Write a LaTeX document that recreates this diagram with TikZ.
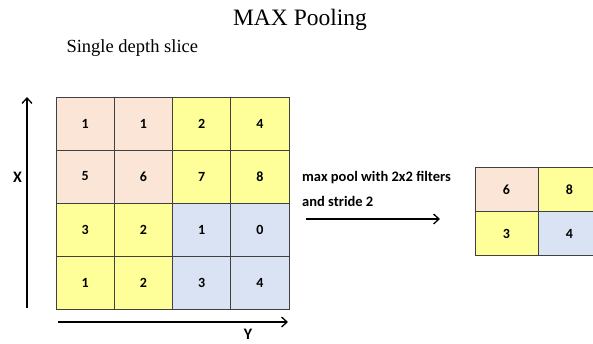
\documentclass[tikz,border=0pt]{standalone}
\usepackage{fontspec}
\setmainfont{Liberation Serif}
\newfontfamily\carlito{Carlito}
\usetikzlibrary{arrows.meta}
\definecolor{peach}{HTML}{FBE5D6}
\definecolor{lemon}{HTML}{FFFF99}
\definecolor{steel}{HTML}{DAE3F3}
\tikzset{
  cell/.style={draw=black!75,line width=0.9pt,minimum width=58.25pt,minimum height=53pt,inner sep=0pt,font=\carlito\bfseries\fontsize{14}{16}\selectfont},
  pcell/.style={cell,minimum width=63pt,minimum height=44pt},
  axis/.style={line width=1.3pt,-{Straight Barb[length=5.5pt,width=10pt,line width=1.3pt]}},
  lbl/.style={font=\carlito\bfseries\fontsize{14.5}{16}\selectfont,inner sep=0pt,anchor=west},
  axlbl/.style={font=\carlito\bfseries\fontsize{16}{18}\selectfont,inner sep=0pt}
}
\begin{document}
\begin{tikzpicture} [x=1pt,y=-1pt]
	\useasboundingbox (0,0) rectangle (593,343);
	\clip (0,0) rectangle (593,343);
		% titles
		\node (title) at (300,20) {\fontsize{23.5}{26}\selectfont MAX Pooling};
		\node [anchor=west] (slice) at (63,48) {\fontsize{18.5}{20}\selectfont Single depth slice};
		% input slice
		\node [cell,fill=peach] (a11) at (85.1,123.5) {1};
		\node [cell,fill=peach] (a12) at (143.4,123.5) {1};
		\node [cell,fill=lemon] (a13) at (201.6,123.5) {2};
		\node [cell,fill=lemon] (a14) at (259.9,123.5) {4};
		\node [cell,fill=peach] (a21) at (85.1,176.5) {5};
		\node [cell,fill=peach] (a22) at (143.4,176.5) {6};
		\node [cell,fill=lemon] (a23) at (201.6,176.5) {7};
		\node [cell,fill=lemon] (a24) at (259.9,176.5) {8};
		\node [cell,fill=lemon] (a31) at (85.1,229.5) {3};
		\node [cell,fill=lemon] (a32) at (143.4,229.5) {2};
		\node [cell,fill=steel] (a33) at (201.6,229.5) {1};
		\node [cell,fill=steel] (a34) at (259.9,229.5) {0};
		\node [cell,fill=lemon] (a41) at (85.1,282.5) {1};
		\node [cell,fill=lemon] (a42) at (143.4,282.5) {2};
		\node [cell,fill=steel] (a43) at (201.6,282.5) {3};
		\node [cell,fill=steel] (a44) at (259.9,282.5) {4};
		% axes
		\coordinate (xlo) at (27,308);
		\coordinate (xhi) at (27,97);
		\coordinate (ylo) at (58,322);
		\coordinate (yhi) at (288,322);
		\draw [axis] (xlo) -- (xhi);
		\draw [axis] (ylo) -- (yhi);
		\node [axlbl] (xlab) at (17.5,177) {X};
		\node [axlbl] (ylab) at (248,334) {Y};
		% pooling step
		\node [lbl] (note1) at (302,178) {max pool with 2x2 filters};
		\node [lbl] (note2) at (302,201) {and stride 2};
		\coordinate (pa) at (306,219);
		\coordinate (pb) at (440,219);
		\draw [axis] (pa) -- (pb);
		% output
		\node [pcell,fill=peach] (b11) at (506.5,189.5) {6};
		\node [pcell,fill=lemon] (b12) at (569.5,189.5) {8};
		\node [pcell,fill=lemon] (b21) at (506.5,233.5) {3};
		\node [pcell,fill=steel] (b22) at (569.5,233.5) {4};
	\end{tikzpicture}
\end{document}
